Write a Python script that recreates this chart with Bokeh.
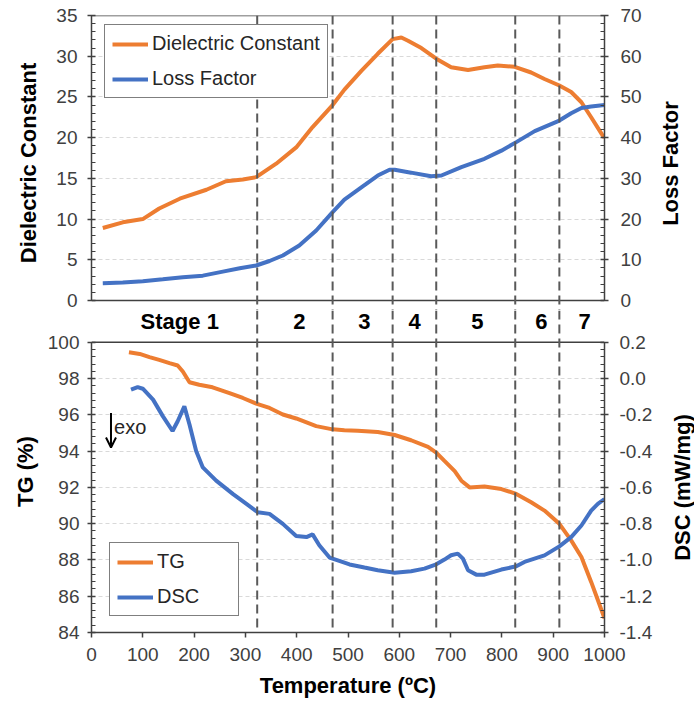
import math
from bokeh.plotting import figure
from bokeh.models import (Range1d, LinearAxis, FixedTicker, Span, Legend, LegendItem,
                          Arrow, OpenHead, NumeralTickFormatter, Label)
from bokeh.layouts import column, row
from bokeh.embed import file_html
from bokeh.resources import INLINE
from bokeh.core.properties import value

# ---------------- data ----------------
temp_diel = [22, 61, 100, 132, 172, 224, 262, 295, 321, 360, 399, 431, 470, 493, 526, 558,
             587, 604, 617, 643, 672, 701, 734, 766, 792, 825, 857, 883, 912, 935, 955, 974, 995, 1000]
dielectric = [8.9, 9.6, 10.0, 11.3, 12.5, 13.6, 14.65, 14.86, 15.15, 16.8, 18.8, 21.3, 24.0, 25.9, 28.2, 30.3,
              32.1, 32.3, 31.9, 31.0, 29.7, 28.65, 28.3, 28.65, 28.86, 28.7, 28.0, 27.2, 26.4, 25.6, 24.35, 22.5, 20.4, 20.0]

temp_loss = [22, 61, 100, 139, 178, 217, 256, 289, 321, 347, 373, 405, 438, 470, 493, 526, 558,
             581, 591, 623, 662, 682, 721, 766, 799, 828, 864, 912, 935, 955, 974, 1000]
loss_factor = [4.25, 4.4, 4.75, 5.2, 5.7, 6.1, 7.1, 7.9, 8.6, 9.7, 11.05, 13.5, 17.2, 21.7, 24.8, 27.8, 30.7,
               32.1, 32.1, 31.4, 30.5, 30.7, 32.75, 34.8, 36.8, 38.9, 41.6, 44.2, 46.0, 47.3, 47.65, 48.0]

temp_tg = [73, 94, 113, 132, 152, 168, 178, 191, 210, 236, 269, 295, 321, 347, 373, 399, 438, 470, 493,
           519, 558, 591, 623, 656, 672, 688, 708, 721, 737, 766, 799, 828, 857, 883, 912, 935, 955, 974, 987, 1000]
tg = [99.45, 99.36, 99.18, 99.03, 98.85, 98.72, 98.39, 97.8, 97.66, 97.52, 97.2, 96.93, 96.62, 96.38, 96.02,
      95.8, 95.38, 95.2, 95.15, 95.12, 95.05, 94.89, 94.6, 94.23, 93.92, 93.46, 92.9, 92.37, 92.0, 92.05,
      91.91, 91.64, 91.18, 90.72, 89.99, 89.08, 88.16, 86.79, 85.79, 84.78]

temp_dsc = [77, 90, 100, 120, 139, 158, 168, 181, 191, 204, 217, 243, 276, 302, 324, 347, 373, 399, 419,
            431, 444, 464, 483, 503, 532, 558, 591, 623, 649, 672, 688, 701, 714, 724, 734, 750, 766, 799,
            828, 844, 883, 912, 935, 955, 974, 987, 1000]
dsc = [-0.061, -0.047, -0.056, -0.116, -0.207, -0.289, -0.235, -0.153, -0.253, -0.399, -0.49, -0.563,
       -0.637, -0.691, -0.737, -0.746, -0.801, -0.868, -0.874, -0.859, -0.919, -0.987, -1.005, -1.025,
       -1.042, -1.057, -1.07, -1.062, -1.048, -1.024, -0.998, -0.974, -0.965, -0.993, -1.057, -1.081,
       -1.081, -1.053, -1.035, -1.011, -0.975, -0.925, -0.874, -0.81, -0.728, -0.691, -0.664]

stage_bounds = [323, 470, 587, 672, 826, 912]
stage_labels = ["Stage 1", "2", "3", "4", "5", "6", "7"]
stage_centers = [172, 405, 532, 630, 752, 877, 961]

x_ticks = [0, 100, 200, 300, 400, 500, 600, 700, 800, 900, 1000]
diel_ticks = [0, 5, 10, 15, 20, 25, 30, 35]
loss_ticks = [0, 10, 20, 30, 40, 50, 60, 70]
tg_ticks = [84, 86, 88, 90, 92, 94, 96, 98, 100]
dsc_ticks = [-1.4, -1.2, -1.0, -0.8, -0.6, -0.4, -0.2, 0.0, 0.2]

# ---------------- style ----------------
ORANGE = "#ED7D31"
BLUE = "#4472C4"
FONT = "Liberation Sans"
AXIS_COLOR = "#404040"
TICK_COLOR = "#404040"
TICK_SIZE = "19px"
TITLE_SIZE = "22px"
MAIN_W = 656
SIDE_W = 38
BORDER_L = 91
BORDER_R = 52
TOP_H = 310
BOT_H = 390


def minor(ticks, n=5):
    out = []
    for a, b in zip(ticks[:-1], ticks[1:]):
        step = (b - a) / n
        out += [a + step * k for k in range(1, n)]
    return out


def style_y(ax, standoff_lbl, standoff_title):
    ax.axis_line_color = AXIS_COLOR
    ax.axis_line_width = 1.5
    ax.major_tick_line_color = AXIS_COLOR
    ax.minor_tick_line_color = AXIS_COLOR
    ax.major_tick_line_width = 1.5
    ax.minor_tick_line_width = 1
    ax.major_tick_in = 4
    ax.major_tick_out = 4
    ax.minor_tick_in = 4
    ax.minor_tick_out = 0
    ax.major_label_text_font = FONT
    ax.major_label_text_font_size = TICK_SIZE
    ax.major_label_text_color = TICK_COLOR
    ax.major_label_standoff = standoff_lbl
    ax.axis_label_text_font = FONT
    ax.axis_label_text_font_size = TITLE_SIZE
    ax.axis_label_text_font_style = "bold"
    ax.axis_label_text_color = "black"
    ax.axis_label_standoff = standoff_title


def side_title(text, height, cx, cy):
    # narrow strip holding a right-hand axis title that reads bottom-to-top
    s = figure(width=SIDE_W, height=height, output_backend="svg", toolbar_location=None,
               x_range=Range1d(0, SIDE_W), y_range=Range1d(height, 0),
               x_axis_location=None, y_axis_location=None,
               min_border=0, min_border_left=0, min_border_right=0,
               min_border_top=0, min_border_bottom=0)
    s.outline_line_color = None
    s.grid.visible = False
    s.text(x=[cx], y=[cy], text=[text], angle=math.pi / 2,
           text_font=value(FONT), text_font_style="bold", text_font_size=TITLE_SIZE,
           text_align="center", text_baseline="middle", text_color="black")
    return s


def style_legend(lg):
    lg.label_text_font = FONT
    lg.label_text_font_size = "20px"
    lg.label_text_color = "#262626"
    lg.glyph_width = 36
    lg.glyph_height = 20
    lg.label_height = 20
    lg.label_standoff = 4
    lg.spacing = 12
    lg.padding = 7
    lg.border_line_color = "black"
    lg.border_line_width = 1.5
    lg.background_fill_alpha = 1.0


def style_grid(p, ticks):
    p.xgrid.visible = False
    p.ygrid.ticker = FixedTicker(ticks=ticks)
    p.ygrid.grid_line_color = "#d9d9d9"
    p.ygrid.grid_line_dash = "4 3"
    p.ygrid.grid_line_width = 1


# ---------------- top figure ----------------
top = figure(width=MAIN_W, height=TOP_H, output_backend="svg", toolbar_location=None,
             x_range=Range1d(0, 1000), y_range=Range1d(-1.228, 35), x_axis_location=None,
             min_border_left=BORDER_L, min_border_right=BORDER_R, min_border_top=15, min_border_bottom=0)
top.outline_line_color = None
style_grid(top, diel_ticks)

lax = top.yaxis[0]
lax.ticker = FixedTicker(ticks=diel_ticks, minor_ticks=minor(diel_ticks))
lax.bounds = (0, 35)
lax.axis_label = "Dielectric Constant"
style_y(lax, 10, 12)

top.extra_y_ranges = {"lf": Range1d(-2.456, 70)}
rax = LinearAxis(y_range_name="lf", ticker=FixedTicker(ticks=loss_ticks, minor_ticks=minor(loss_ticks)),
                 bounds=(0, 70))
style_y(rax, 12, 0)
top.add_layout(rax, "right")

top.add_layout(Span(location=35, dimension="width", line_color=AXIS_COLOR, line_width=1.5))
top.add_layout(Span(location=0, dimension="width", line_color=AXIS_COLOR, line_width=1.5))
for b in stage_bounds:
    top.add_layout(Span(location=b, dimension="height", line_color="#595959",
                        line_width=2, line_dash="9 5"))

r_dc = top.line(temp_diel, dielectric, line_color=ORANGE, line_width=4)
r_lf = top.line(temp_loss, loss_factor, line_color=BLUE, line_width=4, y_range_name="lf")

leg_top = Legend(items=[LegendItem(label="Dielectric Constant", renderers=[r_dc]),
                        LegendItem(label="Loss Factor", renderers=[r_lf])],
                 location=(13, 212))
style_legend(leg_top)
top.add_layout(leg_top, "center")

# ---------------- bottom figure ----------------
bot = figure(width=MAIN_W, height=BOT_H, output_backend="svg", toolbar_location=None,
             x_range=Range1d(0, 1000), y_range=Range1d(84, 101.7534),
             min_border_left=BORDER_L, min_border_right=BORDER_R, min_border_top=0, min_border_bottom=66)
bot.outline_line_color = None
style_grid(bot, tg_ticks)

blax = bot.yaxis[0]
blax.ticker = FixedTicker(ticks=tg_ticks, minor_ticks=minor(tg_ticks))
blax.bounds = (84, 100)
blax.axis_label = "TG (%)"
style_y(blax, 8, 7)

bot.extra_y_ranges = {"dsc": Range1d(-1.4, 0.37534)}
brax = LinearAxis(y_range_name="dsc", ticker=FixedTicker(ticks=dsc_ticks, minor_ticks=minor(dsc_ticks)),
                  bounds=(-1.4, 0.2), formatter=NumeralTickFormatter(format="0.0"))
style_y(brax, 11, 0)
bot.add_layout(brax, "right")

xax = bot.xaxis[0]
xax.ticker = FixedTicker(ticks=x_ticks)
xax.axis_label = "Temperature (ºC)"
xax.axis_line_color = AXIS_COLOR
xax.axis_line_width = 1.5
xax.major_tick_line_color = AXIS_COLOR
xax.major_tick_line_width = 1.5
xax.major_tick_in = 0
xax.major_tick_out = 5
xax.major_label_text_font = FONT
xax.major_label_text_font_size = TICK_SIZE
xax.major_label_text_color = TICK_COLOR
xax.major_label_standoff = 10
xax.axis_label_text_font = FONT
xax.axis_label_text_font_size = TITLE_SIZE
xax.axis_label_text_font_style = "bold"
xax.axis_label_text_color = "black"
xax.axis_label_standoff = 9

bot.add_layout(Span(location=100, dimension="width", line_color=AXIS_COLOR, line_width=1.5))
for b in stage_bounds:
    bot.add_layout(Span(location=b, dimension="height", line_color="#595959",
                        line_width=2, line_dash="9 5"))

stage_y = 101.15
bot.text(x=stage_centers, y=[stage_y] * len(stage_centers), text=stage_labels,
         text_font=value(FONT), text_font_style="bold", text_font_size="22px",
         text_align="center", text_baseline="middle", text_color="black")

r_tg = bot.line(temp_tg, tg, line_color=ORANGE, line_width=4)
r_dsc = bot.line(temp_dsc, dsc, line_color=BLUE, line_width=4, y_range_name="dsc")

exo_x, exo_y0, exo_y1 = 38, 96.1, 94.2
bot.add_layout(Arrow(end=OpenHead(size=10, line_width=2, line_color="black"),
                     x_start=exo_x, y_start=exo_y0, x_end=exo_x, y_end=exo_y1,
                     line_width=2, line_color="black"))
bot.add_layout(Label(x=exo_x + 6, y=95.35, text="exo", text_font=FONT, text_font_size="20px",
                     text_baseline="middle", text_color="#262626"))

leg_bot = Legend(items=[LegendItem(label="TG", renderers=[r_tg]),
                        LegendItem(label="DSC", renderers=[r_dsc])],
                 location=(18, 16))
style_legend(leg_bot)
leg_bot.label_width = 74
bot.add_layout(leg_bot, "center")

# ---------------- right-hand axis titles ----------------
t_top = side_title("Loss Factor", TOP_H, 14, 163)
t_bot = side_title("DSC (mW/mg)", BOT_H, 26, 177)

layout = row(column(top, bot, spacing=0), column(t_top, t_bot, spacing=0), spacing=0)
open("out.html", "w").write(file_html(layout, INLINE))
